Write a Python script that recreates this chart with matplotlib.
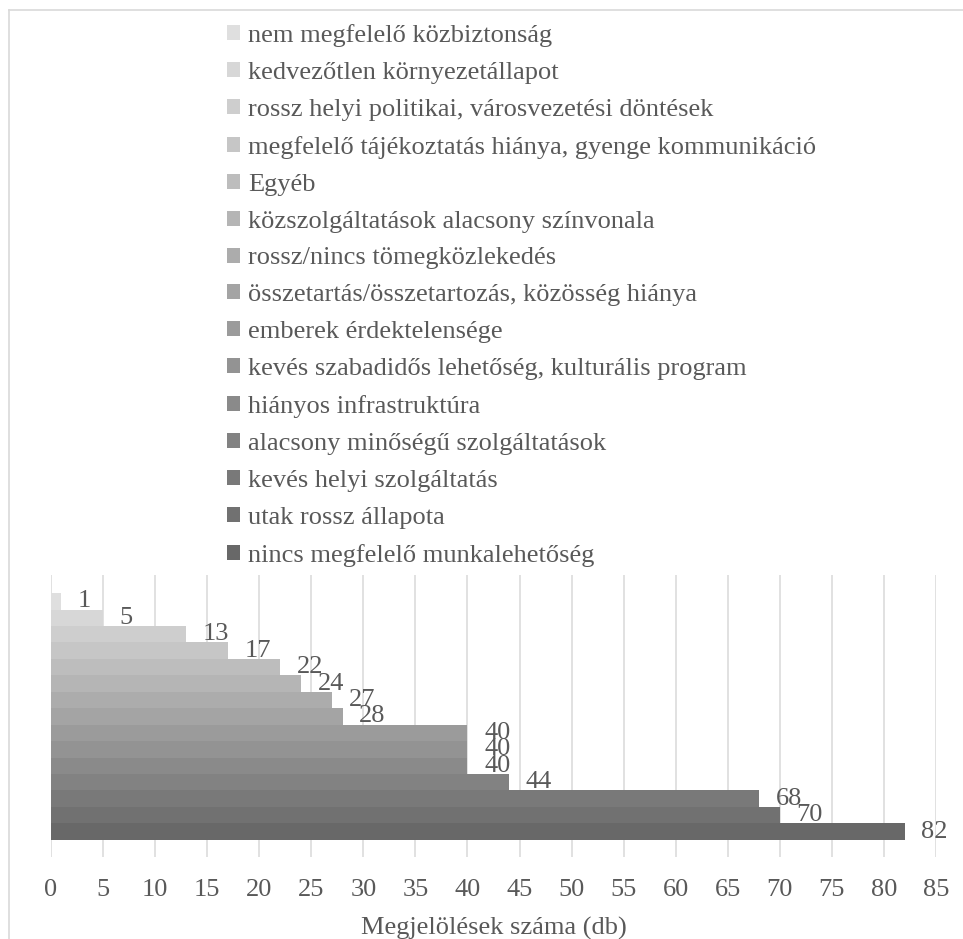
import numpy as np
import matplotlib
matplotlib.use("Agg")
import matplotlib.pyplot as plt
from matplotlib.lines import Line2D
from matplotlib.patches import Patch

# categories from bottom bar to top bar
categories = [
    "nincs megfelelő munkalehetőség",
    "utak rossz állapota",
    "kevés helyi szolgáltatás",
    "alacsony minőségű szolgáltatások",
    "hiányos infrastruktúra",
    "kevés szabadidős lehetőség, kulturális program",
    "emberek érdektelensége",
    "összetartás/összetartozás, közösség hiánya",
    "rossz/nincs tömegközlekedés",
    "közszolgáltatások alacsony színvonala",
    "Egyéb",
    "megfelelő tájékoztatás hiánya, gyenge kommunikáció",
    "rossz helyi politikai, városvezetési döntések",
    "kedvezőtlen környezetállapot",
    "nem megfelelő közbiztonság",
]
counts = [82, 70, 68, 44, 40, 40, 40, 28, 27, 24, 22, 17, 13, 5, 1]
xticks = list(range(0, 90, 5))

plt.rcParams['font.family'] = ['Liberation Serif', 'DejaVu Serif']
txt = "#595959"
fs = 19

W, H = 963, 939
fig = plt.figure(figsize=(W / 100, H / 100), dpi=100)
ax = fig.add_axes([51 / W, 1 - 857 / H, (936 - 51) / W, (857 - 575) / H])

greys = np.linspace(104, 223, len(categories)) / 255
colors = [(g, g, g) for g in greys]

y = np.arange(len(categories))
bars = ax.barh(y, counts, height=1.0, color=colors, zorder=2)

# value labels (they overlap where bars are equal, as in the original)
for yi, v in zip(y, counts):
    ax.annotate(str(v), xy=(v, yi), xytext=(12, 0), textcoords="offset points",
                ha="left", va="center", fontsize=fs, color=txt, zorder=3)

ax.set_xlim(0, 85)
ax.set_ylim(-1.55, 15.6)
ax.set_xticks(xticks)
ax.set_yticks([])
ax.grid(axis="x", color="#d9d9d9", linewidth=1.1, zorder=0)
for s in ax.spines.values():
    s.set_visible(False)
ax.tick_params(axis="x", length=0, pad=16, labelsize=fs, labelcolor=txt)
ax.set_xlabel("Megjelölések száma (db)", fontsize=fs, color=txt, labelpad=11)

handles = [Patch(facecolor=c, edgecolor="none") for c in colors][::-1]
labels = categories[::-1]
fig.legend(handles, labels, loc="upper left",
           bbox_to_anchor=(227 / W, 1 - 24 / H), frameon=False,
           fontsize=fs, labelcolor=txt, borderpad=0, borderaxespad=0,
           handlelength=0.5, handleheight=0.5, handletextpad=0.3,
           labelspacing=0.565)

# chart border (partially visible)
fig.add_artist(Line2D([8.5 / W, 1], [1 - 9.5 / H, 1 - 9.5 / H], color="#d9d9d9", lw=1.2))
fig.add_artist(Line2D([8.5 / W, 8.5 / W], [0, 1 - 9.5 / H], color="#d9d9d9", lw=1.2))

fig.savefig("out.png", dpi=100)
